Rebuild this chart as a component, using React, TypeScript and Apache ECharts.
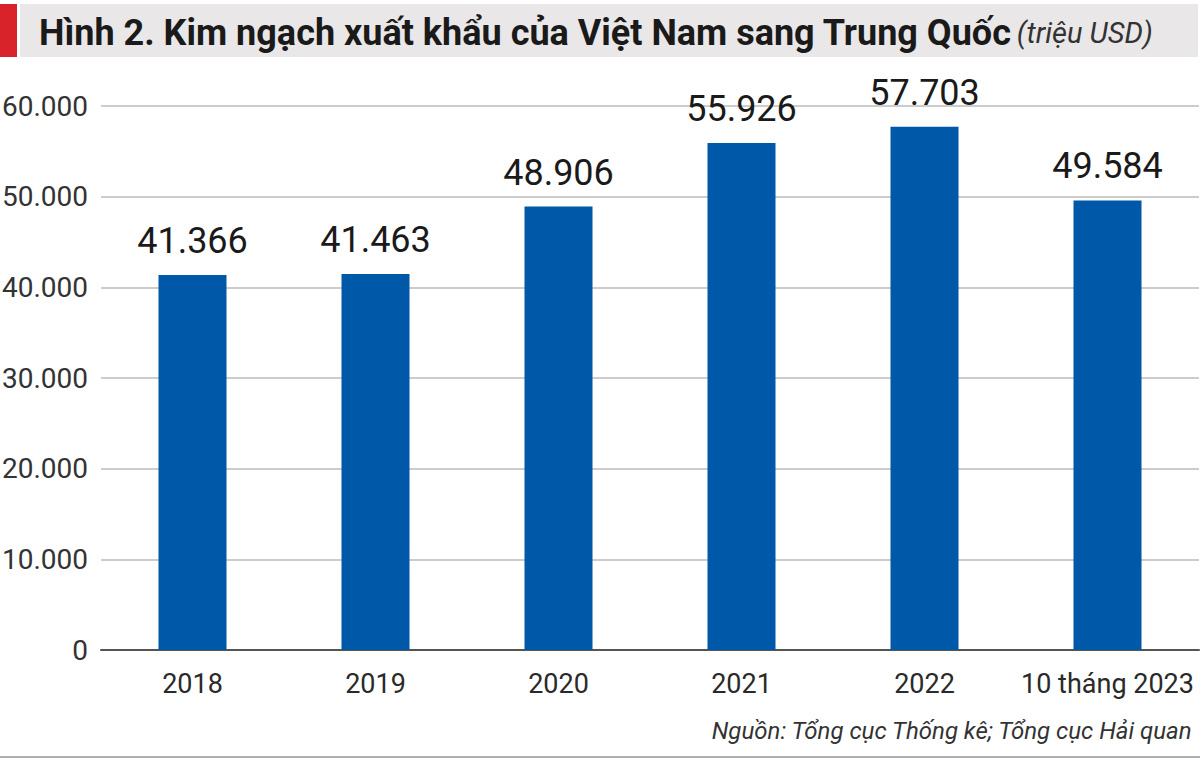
import React, { useEffect, useRef } from "react";
import * as echarts from "echarts";

const categories = ["2018", "2019", "2020", "2021", "2022", "10 tháng 2023"];
const values = [41366, 41463, 48906, 55926, 57703, 49584];
const valueLabels = ["41.366", "41.463", "48.906", "55.926", "57.703", "49.584"];
const yTickLabels: Record<number, string> = {
  0: "0",
  10000: "10.000",
  20000: "20.000",
  30000: "30.000",
  40000: "40.000",
  50000: "50.000",
  60000: "60.000",
};
const titleMain = "Hình 2. Kim ngạch xuất khẩu của Việt Nam sang Trung Quốc";
const titleUnit = "(triệu USD)";
const sourceText = "Nguồn: Tổng cục Thống kê; Tổng cục Hải quan";

const FONT = "Roboto, 'Noto Sans', sans-serif";

export default function App() {
  const ref = useRef<HTMLDivElement>(null);
  useEffect(() => {
    if (!ref.current) return;
    const chart = echarts.init(ref.current, undefined, { renderer: "svg" });
    chart.setOption({
      animation: false,
      backgroundColor: "#ffffff",
      graphic: [
        { type: "rect", shape: { x: 0, y: 4, width: 17, height: 53 }, style: { fill: "#d9232a" } },
        { type: "rect", shape: { x: 20, y: 4, width: 1178, height: 53 }, style: { fill: "#e9e7e7" } },
        { type: "rect", shape: { x: 0, y: 756, width: 1200, height: 2 }, style: { fill: "#b0b0b0" } },
      ],
      title: [
        {
          text: `{b|${titleMain}} {i|${titleUnit}}`,
          left: 34,
          top: 10,
          textStyle: {
            rich: {
              b: { fontFamily: FONT, fontWeight: "bold", fontSize: 36, color: "#1a1a1a" },
              i: { fontFamily: FONT, fontStyle: "italic", fontWeight: "normal", fontSize: 29, color: "#333333" },
            },
          },
        },
        {
          text: sourceText,
          right: 2,
          top: 714,
          textStyle: { fontFamily: FONT, fontStyle: "italic", fontWeight: "normal", fontSize: 24, color: "#333333" },
        },
      ],
      grid: { left: 101, right: 1, top: 106, bottom: 111, containLabel: false, outerBoundsMode: "none" },
      xAxis: {
        type: "category",
        data: categories,
        axisLine: { show: true, lineStyle: { color: "#555555", width: 2 } },
        axisTick: { show: false },
        axisLabel: { fontFamily: FONT, fontSize: 27, color: "#2a2a2a", margin: 20, interval: 0 },
      },
      yAxis: {
        type: "value",
        min: 0,
        max: 60000,
        interval: 10000,
        axisLine: { show: false },
        axisTick: { show: false },
        splitLine: { lineStyle: { color: "#cccccc", width: 2 } },
        axisLabel: {
          fontFamily: FONT,
          fontSize: 28,
          color: "#333333",
          margin: 13,
          formatter: (v: number) => yTickLabels[v] ?? String(v),
        },
      },
      series: [
        {
          type: "bar",
          data: values,
          barWidth: 68,
          itemStyle: { color: "#0058a8" },
          label: {
            show: true,
            position: "top",
            distance: 16,
            fontFamily: FONT,
            fontSize: 36,
            color: "#1a1a1a",
            formatter: (p: any) => valueLabels[p.dataIndex],
          },
        },
      ],
    });
    return () => chart.dispose();
  }, []);
  return (
    <div
      ref={ref}
      style={{ position: "absolute", left: 0, top: 0, width: 1200, height: 761 }}
    />
  );
}
